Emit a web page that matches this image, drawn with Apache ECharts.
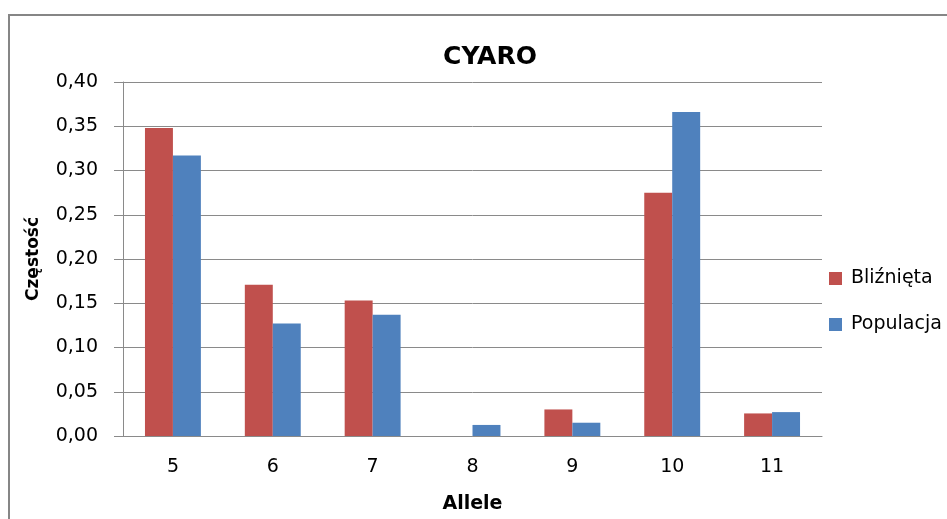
<!DOCTYPE html>
<html>
<head>
<meta charset="utf-8">
<script src="https://cdn.jsdelivr.net/npm/echarts@6/dist/echarts.min.js"></script>
<style>
  html, body { margin: 0; padding: 0; background: #fff; }
  #chart { width: 947px; height: 519px; }
</style>
</head>
<body>
<div id="chart"></div>
<script>
// Allele frequencies for the CYARO locus
const alleles = ['5', '6', '7', '8', '9', '10', '11'];
const blizniety = [0.348, 0.171, 0.153, 0, 0.030, 0.275, 0.0255];
const populacja = [0.317, 0.127, 0.137, 0.0125, 0.015, 0.366, 0.027];
const seriesNames = ['Bliźnięta', 'Populacja'];
const yTicks = { min: 0, max: 0.40, interval: 0.05 };

const FONT = 'DejaVu Sans';
const GRID_COLOR = '#8a8a8a';

const chart = echarts.init(document.getElementById('chart'), null, { renderer: 'canvas' });

chart.setOption({
  animation: false,
  backgroundColor: '#ffffff',
  title: {
    text: 'CYARO',
    left: 485,
    textAlign: 'center',
    top: 40,
    textStyle: { fontFamily: FONT, fontWeight: 'bold', fontSize: 25, color: '#000' }
  },
  graphic: [{
    type: 'rect',
    shape: { x: 9, y: 15, width: 1100, height: 700 },
    style: { fill: 'none', stroke: '#868686', lineWidth: 2 },
    silent: true,
    z: -1
  }],
  legend: {
    orient: 'vertical',
    left: 824,
    top: 263,
    itemWidth: 13,
    itemHeight: 13,
    itemGap: 25,
    icon: 'rect',
    data: seriesNames,
    textStyle: { fontFamily: FONT, fontSize: 19, color: '#000', lineHeight: 21, padding: [0, 0, 0, 4] }
  },
  grid: { left: 123, right: 125, top: 82, bottom: 83, containLabel: false, outerBoundsMode: 'none' },
  xAxis: {
    type: 'category',
    data: alleles,
    name: 'Allele',
    nameLocation: 'middle',
    nameGap: 59,
    nameTextStyle: { fontFamily: FONT, fontWeight: 'bold', fontSize: 19, color: '#000' },
    axisLine: { lineStyle: { color: GRID_COLOR, width: 1 } },
    axisTick: { show: false },
    axisLabel: { margin: 22, fontFamily: FONT, fontSize: 19, color: '#000' }
  },
  yAxis: {
    type: 'value',
    min: yTicks.min,
    max: yTicks.max,
    interval: yTicks.interval,
    name: 'Częstość',
    nameLocation: 'middle',
    nameRotate: 90,
    nameGap: 81,
    nameTextStyle: { fontFamily: FONT, fontWeight: 'bold', fontSize: 17, color: '#000' },
    axisLine: { show: true, lineStyle: { color: GRID_COLOR, width: 1 } },
    axisTick: { show: true, length: 9, lineStyle: { color: GRID_COLOR } },
    splitLine: { lineStyle: { color: GRID_COLOR, width: 1 } },
    axisLabel: {
      margin: 25,
      fontFamily: FONT,
      fontSize: 19,
      color: '#000',
      formatter: v => v.toFixed(2).replace('.', ',')
    }
  },
  series: [
    {
      name: seriesNames[0],
      type: 'bar',
      data: blizniety,
      barGap: '0%',
      barCategoryGap: '44%',
      itemStyle: { color: '#C0504D' }
    },
    {
      name: seriesNames[1],
      type: 'bar',
      data: populacja,
      barGap: '0%',
      barCategoryGap: '44%',
      itemStyle: { color: '#4F81BD' }
    }
  ]
});
</script>
</body>
</html>
